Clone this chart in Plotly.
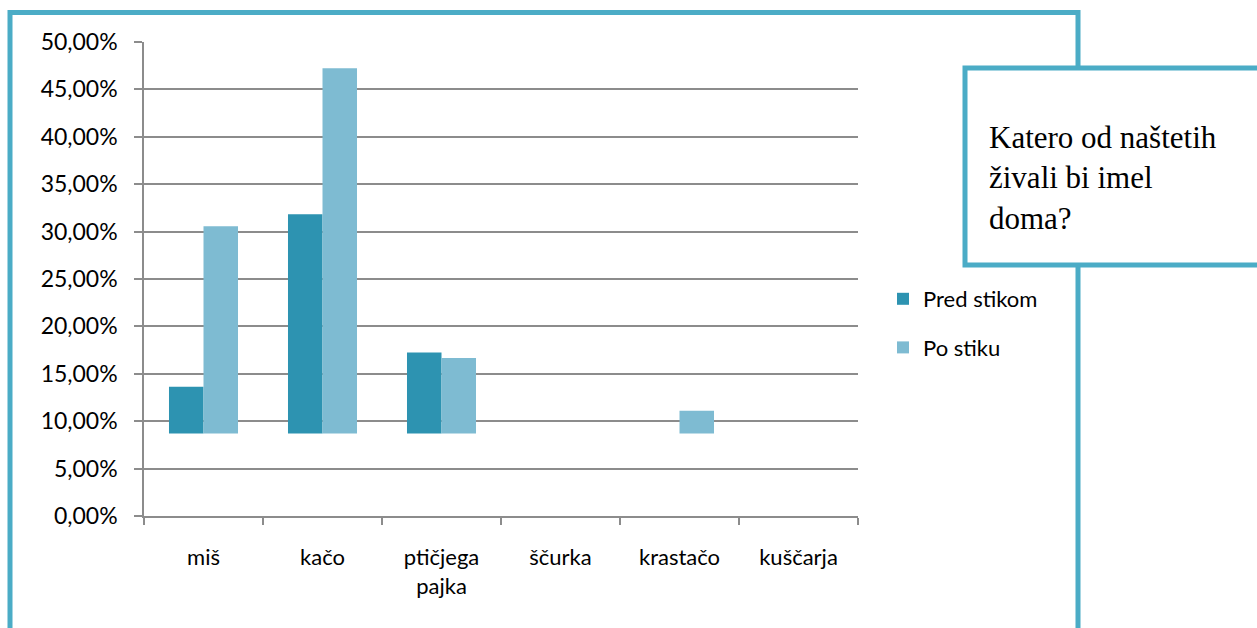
import plotly.graph_objects as go

categories = ["miš", "kačo", "ptičjega<br>pajka", "ščurka", "krastačo", "kuščarja"]
pred_stikom = [0.1364, 0.3182, 0.1724, None, None, None]
po_stiku = [0.3056, 0.4722, 0.1667, None, 0.1111, None]
bar_base = 0.087
y_ticks = [0, 0.05, 0.10, 0.15, 0.20, 0.25, 0.30, 0.35, 0.40, 0.45, 0.50]
title_text = "Katero od naštetih<br>živali bi imel<br>doma?"

W, H = 1257, 628
L, R, T, B = 144, 858, 42, 516

def px(x):
    return (x - L) / (R - L)

def py(y):
    return (B - y) / (B - T)

teal = "#4BACC6"
grid = "#8C8C8C"
sans = "Lato"

fig = go.Figure()
fig.add_trace(go.Bar(
    name="Pred stikom", x=categories,
    y=[None if v is None else v - bar_base for v in pred_stikom],
    base=bar_base, marker=dict(color="#2D93B1", line=dict(width=0)),
    legendgroup="a",
))
fig.add_trace(go.Bar(
    name="Po stiku", x=categories,
    y=[None if v is None else v - bar_base for v in po_stiku],
    base=bar_base, marker=dict(color="#7EBBD2", line=dict(width=0)),
    legendgroup="b",
))

shapes = [
    dict(type="rect", xref="paper", yref="paper",
         x0=px(10), x1=px(1078), y0=py(650), y1=py(12.5),
         line=dict(color=teal, width=5), fillcolor="rgba(0,0,0,0)", layer="above"),
    dict(type="rect", xref="paper", yref="paper",
         x0=px(965), x1=px(1275), y0=py(265), y1=py(68),
         line=dict(color=teal, width=5), fillcolor="white", layer="above"),
]

fig.update_layout(
    width=W, height=H,
    margin=dict(l=L, r=W - R, t=T, b=H - B, autoexpand=False),
    paper_bgcolor="white", plot_bgcolor="white",
    separators=",.",
    barmode="group", bargap=0.42, bargroupgap=0,
    font=dict(family=sans, size=22, color="#000000"),
    showlegend=True,
    legend=dict(x=px(883), y=py(278), xanchor="left", yanchor="top",
                font=dict(family=sans, size=22, color="#000"),
                tracegroupgap=17, itemwidth=30, bgcolor="rgba(0,0,0,0)",
                traceorder="grouped"),
    shapes=shapes,
    annotations=[dict(
        xref="paper", yref="paper", x=px(987), y=py(118), xanchor="left", yanchor="top",
        text=title_text, showarrow=False, align="left",
        font=dict(family="Liberation Serif", size=31, color="#000"),
    )],
    xaxis=dict(
        showline=True, linecolor=grid, linewidth=1.5,
        ticks="outside", tickson="boundaries", ticklen=7, tickcolor=grid, tickwidth=1.5,
        ticklabelstandoff=21, showgrid=False,
        tickfont=dict(family=sans, size=22, color="#000"),
    ),
    yaxis=dict(
        range=[0, 0.5], tickvals=y_ticks, tickformat=".2%",
        showline=True, linecolor=grid, linewidth=1.5,
        showgrid=True, gridcolor=grid, gridwidth=1.5,
        ticks="outside", ticklen=8, tickcolor=grid, tickwidth=1.5,
        ticklabelstandoff=12, zeroline=False,
        tickfont=dict(family=sans, size=23, color="#000"),
    ),
)

fig.write_html("out.html", config={"displayModeBar": False},
               post_script="document.body.style.margin='0';document.body.style.padding='0';")
